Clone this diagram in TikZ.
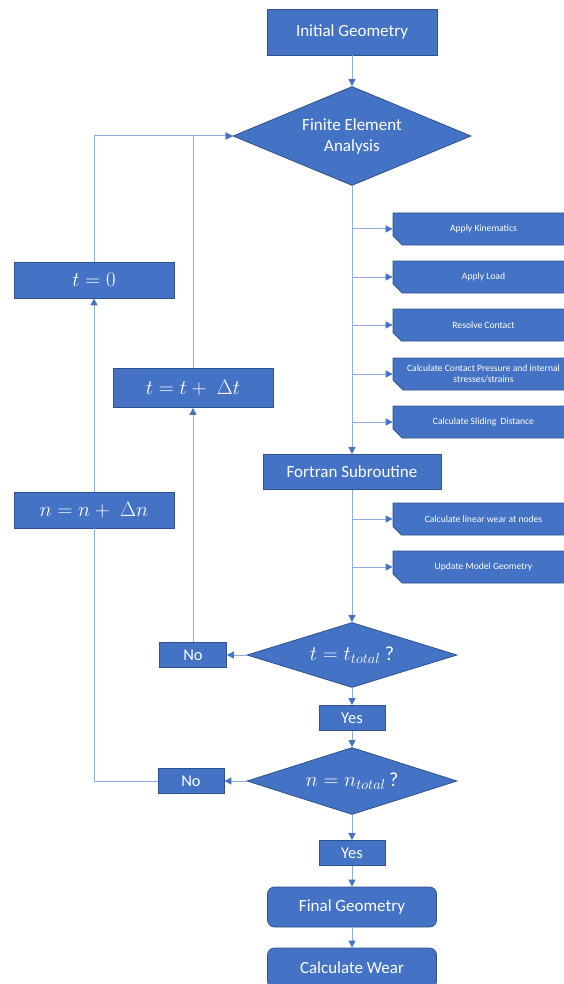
\documentclass[tikz,border=0pt]{standalone}
\usepackage{amsmath}
\usepackage{fontspec}
\setmainfont{Carlito}
\usepackage{tikz}
\usetikzlibrary{shapes.geometric,shapes.misc,arrows.meta,positioning}
\definecolor{officeblue}{HTML}{4472C4}
\definecolor{officeedge}{HTML}{2F528F}
\definecolor{linkblue}{HTML}{8FAADC}
\tikzset{
    flow-box/.style = {draw=officeedge, fill=officeblue, text=white, rectangle, line width=0.8pt, inner sep=0pt, font=\fontsize{17}{21}\selectfont},
    flow-round/.style = {flow-box, rounded corners=7pt, minimum width=169pt, minimum height=40pt},
    flow-diamond/.style = {flow-box, diamond, aspect=2.4, align=center},
    step-box/.style = {flow-box, chamfered rectangle, chamfered rectangle corners=south west, chamfered rectangle sep=5pt, minimum width=181pt, minimum height=32pt, align=center, font=\fontsize{9.6}{11.5}\selectfont},
    answer-box/.style = {flow-box, minimum width=66pt, minimum height=25pt, font=\fontsize{16.5}{20}\selectfont},
    math-box/.style = {flow-box, minimum width=160pt, minimum height=36pt, font=\fontsize{21}{25}\selectfont},
    flow-line/.style = {draw=linkblue, line width=1pt, -{Triangle[length=7pt, width=7pt, color=officeblue]}},
}
\begin{document}
\begin{tikzpicture}[x=1pt, y=-1pt]
\useasboundingbox (0,0) rectangle (563,984);

% main column
\node [flow-box, minimum width=170pt, minimum height=46pt] (init) at (352,32) {Initial Geometry};
\node [flow-diamond, minimum width=238pt, minimum height=99pt] (fea) at (352,136) {Finite Element\\Analysis};
\node [flow-box, minimum width=178pt, minimum height=35pt] (fortran) at (352,472) {Fortran Subroutine};
\node [flow-diamond, minimum width=210pt, minimum height=65pt, font=\fontsize{20}{24}\selectfont] (tdia) at (352,655) {$t = t_{total}$\ ?};
\node [answer-box] (yes1) at (352,718) {Yes};
\node [flow-diamond, minimum width=210pt, minimum height=67pt, font=\fontsize{20}{24}\selectfont] (ndia) at (352,781) {$n = n_{total}$\,?};
\node [answer-box] (yes2) at (352,853) {Yes};
\node [flow-round] (final) at (352,907) {Final Geometry};
\node [flow-round] (wear) at (352,968) {Calculate Wear};

% steps on the right
\node [step-box] (kin) at (483.5,229) {Apply Kinematics};
\node [step-box] (load) at (483.5,277) {Apply Load};
\node [step-box] (contact) at (483.5,325) {Resolve Contact};
\node [step-box] (press) at (483.5,374) {Calculate Contact Pressure and internal\\stresses/strains};
\node [step-box] (slide) at (483.5,422) {Calculate Sliding\ \ Distance};
\node [step-box] (linear) at (483.5,519) {Calculate linear wear at nodes};
\node [step-box] (update) at (483.5,567) {Update Model Geometry};

% loop counters
\node [answer-box, minimum width=67pt] (no1) at (193,655) {No};
\node [answer-box] (no2) at (191,781) {No};
\node [math-box, minimum height=39pt] (tinc) at (193,388) {$t = t +\;\Delta t$};
\node [math-box] (tzero) at (94,280) {$t = 0$};
\node [math-box] (ninc) at (94,510) {$n = n +\;\Delta n$};

% connectors
\draw [flow-line] (init) -- (fea);
\draw [flow-line] (fea) -- (fortran);
\foreach \s in {kin,load,contact,press,slide}
    \draw [flow-line] (fea.south |- \s.west) -- (\s.west);
\draw [flow-line] (fortran) -- (tdia);
\foreach \s in {linear,update}
    \draw [flow-line] (fortran.south |- \s.west) -- (\s.west);
\draw [flow-line] (tdia) -- (yes1);
\draw [flow-line] (yes1) -- (ndia);
\draw [flow-line] (ndia) -- (yes2);
\draw [flow-line] (yes2) -- (final);
\draw [flow-line] (final) -- (wear);
\draw [flow-line] (tdia.west) -- (no1.east);
\draw [flow-line] (ndia.west) -- (no2.east);
\draw [flow-line] (no1) -- (tinc);
\draw [flow-line] (tinc.north) |- (fea.west);
\draw [flow-line] (tzero.north) |- (fea.west);
\draw [flow-line] (ninc) -- (tzero);
\draw [draw=linkblue, line width=1pt] (no2.west) -| (ninc.south);
\end{tikzpicture}
\end{document}
